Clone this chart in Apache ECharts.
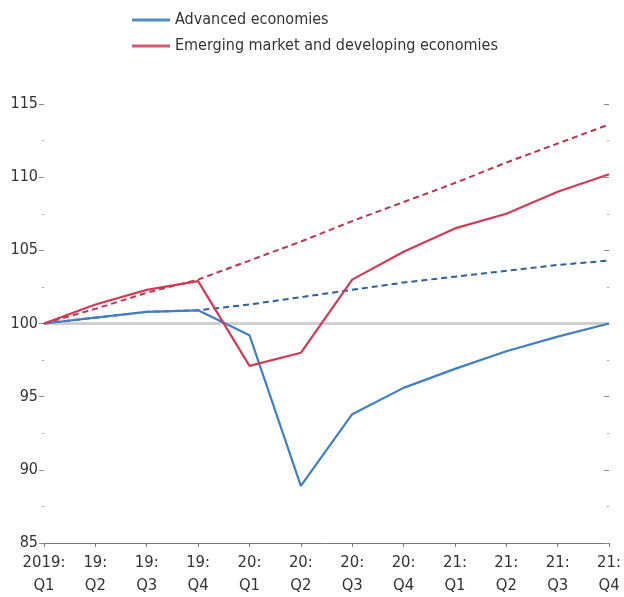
<!DOCTYPE html>
<html><head><meta charset="utf-8">
<script src="https://cdn.jsdelivr.net/npm/echarts@6/dist/echarts.min.js"></script>
<style>html,body{margin:0;padding:0;background:#fff}#c{width:624px;height:597px}</style>
</head><body><div id="c"></div>
<script>
const categories = ['2019:\nQ1','19:\nQ2','19:\nQ3','19:\nQ4','20:\nQ1','20:\nQ2','20:\nQ3','20:\nQ4','21:\nQ1','21:\nQ2','21:\nQ3','21:\nQ4'];
const advanced = [100, 100.4, 100.8, 100.9, 99.2, 88.9, 93.8, 95.6, 96.9, 98.1, 99.1, 100.0];
const emerging = [100, 101.3, 102.3, 102.9, 97.1, 98.0, 103.0, 104.9, 106.5, 107.5, 109.0, 110.2];
const advancedPreCovid = [100, 100.4, 100.8, 100.9, 101.3, 101.8, 102.3, 102.8, 103.2, 103.6, 104.0, 104.3];
const emergingPreCovid = [100, 101.0, 102.1, 103.0, 104.3, 105.6, 107.0, 108.3, 109.6, 111.0, 112.3, 113.6];
const baseline = categories.map(() => 100);

const FONT = '"DejaVu Sans Condensed","Liberation Sans",Arial,sans-serif';
const chart = echarts.init(document.getElementById('c'));
chart.setOption({
  animation: false,
  textStyle: {fontFamily: FONT},
  legend: {
    orient: 'vertical', left: 127, top: 7, itemGap: 10, itemWidth: 38, itemHeight: 3, icon: 'rect',
    textStyle: {fontFamily: FONT, fontSize: 16, color: '#333'},
    data: ['Advanced economies', 'Emerging market and developing economies']
  },
  grid: {left: 44, right: 14, top: 104, bottom: 50, containLabel: false},
  xAxis: {
    type: 'category', data: categories, boundaryGap: false,
    axisLine: {lineStyle: {color: '#777', width: 1}},
    axisTick: {show: true, length: 4, inside: false, lineStyle: {color: '#777'}},
    axisLabel: {fontFamily: FONT, fontSize: 16.5, color: '#333', lineHeight: 23, margin: 8, interval: 0}
  },
  yAxis: [{
    type: 'value', min: 85, max: 115, interval: 5,
    axisLine: {show: false},
    axisTick: {show: true, length: 5, lineStyle: {color: '#888'}},
    minorTick: {show: true, splitNumber: 2, length: 2, lineStyle: {color: '#aaa'}},
    splitLine: {show: false},
    axisLabel: {fontFamily: FONT, fontSize: 16, color: '#333', margin: 6}
  }, {
    type: 'value', min: 85, max: 115, interval: 5, position: 'right',
    axisLine: {show: false},
    axisTick: {show: true, inside: true, length: 5, lineStyle: {color: '#888'}},
    minorTick: {show: true, splitNumber: 2, length: 2, lineStyle: {color: '#aaa'}},
    splitLine: {show: false},
    axisLabel: {show: false}
  }],
  series: [
    {name: 'baseline', type: 'line', data: baseline, symbol: 'none', silent: true,
     lineStyle: {color: '#cfcfcf', width: 3}, z: 1},
    {name: 'Advanced economies', type: 'line', data: advancedPreCovid, symbol: 'none',
     lineStyle: {color: '#2f5f9e', width: 2, type: [6, 4]}, itemStyle: {color: '#4a8fc9'}, z: 2},
    {name: 'Emerging market and developing economies', type: 'line', data: emergingPreCovid, symbol: 'none',
     lineStyle: {color: '#b8354c', width: 2, type: [6, 4]}, itemStyle: {color: '#cf5a72'}, z: 2},
    {name: 'Advanced economies', type: 'line', data: advanced, symbol: 'none',
     lineStyle: {color: '#3f7fc2', width: 2.2}, itemStyle: {color: '#4a8fc9'}, z: 3},
    {name: 'Emerging market and developing economies', type: 'line', data: emerging, symbol: 'none',
     lineStyle: {color: '#d13a55', width: 2.2}, itemStyle: {color: '#cf5a72'}, z: 3}
  ]
});
</script></body></html>
